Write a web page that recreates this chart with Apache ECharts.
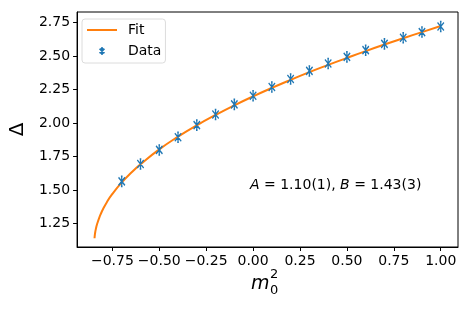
<!DOCTYPE html>
<html>
<head>
<meta charset="utf-8">
<script src="https://cdn.jsdelivr.net/npm/echarts@6/dist/echarts.min.js"></script>
<style>html,body{margin:0;padding:0;background:#fff}#c{width:469px;height:313px}</style>
</head>
<body>
<div id="c"></div>
<script>
// Data points (m0^2, Delta)
const dataX = [-0.7, -0.6, -0.5, -0.4, -0.3, -0.2, -0.1, 0.0, 0.1, 0.2, 0.3, 0.4, 0.5, 0.6, 0.7, 0.8, 0.9, 1.0];
const dataY = [1.565, 1.695, 1.80, 1.895, 1.985, 2.065, 2.14, 2.205, 2.27, 2.33, 2.39, 2.445, 2.495, 2.545, 2.592, 2.638, 2.68, 2.722];
// Fit curve
const fitX = [-0.845, -0.843, -0.84, -0.835, -0.83, -0.82, -0.81, -0.80, -0.78, -0.75, -0.70, -0.65, -0.60, -0.50, -0.40, -0.30, -0.20, -0.10, 0.0, 0.1, 0.2, 0.3, 0.4, 0.5, 0.6, 0.7, 0.8, 0.9, 1.0];
const fitY = [1.14, 1.17, 1.195, 1.228, 1.252, 1.293, 1.327, 1.357, 1.408, 1.471, 1.557, 1.629, 1.693, 1.804, 1.899, 1.984, 2.061, 2.133, 2.20, 2.263, 2.323, 2.381, 2.435, 2.487, 2.538, 2.587, 2.634, 2.680, 2.725];
const xTicks = [-0.75, -0.5, -0.25, 0, 0.25, 0.5, 0.75, 1.0];
const yTicks = [1.25, 1.5, 1.75, 2.0, 2.25, 2.5, 2.75];

const F = 'DejaVu Sans';
const fmt = v => (v < 0 ? '\u2212' : '') + Math.abs(v).toFixed(2);
const markerPath = 'path://M3,0L5,0M4,0L4,10M3,10L5,10M0,1L8,9M8,1L0,9';
const legendMarker = 'path://M-5,-4L-5,-4M13,14L13,14M3,1L5,1M4,1L4,9M3,9L5,9M1,2L7,8M7,2L1,8';
const legendLine = 'path://M0,0L30,0L30,2L0,2Z';

const chart = echarts.init(document.getElementById('c'), null, {renderer: 'canvas'});
chart.setOption({
  animation: false,
  backgroundColor: '#fff',
  grid: {left: 75, right: 11, top: 12, bottom: 66, show: true, borderColor: '#000', borderWidth: 1, backgroundColor: 'transparent'},
  legend: {
    left: 82, top: 19, orient: 'vertical',
    borderColor: '#dcdcdc', borderWidth: 1, borderRadius: 3,
    padding: [4, 4, 4, 5], itemGap: 6, itemWidth: 30, itemHeight: 14,
    textStyle: {fontFamily: F, fontSize: 14, color: '#000', padding: [0, 0, 0, 6]},
    data: [{name: 'Fit', icon: legendLine}, {name: 'Data', icon: legendMarker}]
  },
  xAxis: {
    type: 'value', min: -0.938, max: 1.092,
    axisLine: {show: true, onZero: false, lineStyle: {color: '#000', width: 1}},
    axisTick: {show: true, length: 4, lineStyle: {color: '#000'}, customValues: xTicks},
    axisLabel: {fontFamily: F, fontSize: 14, color: '#000', margin: 7, customValues: xTicks, formatter: fmt},
    splitLine: {show: false}
  },
  yAxis: {
    type: 'value', min: 1.075, max: 2.83,
    name: '\u0394', nameLocation: 'middle', nameRotate: 90, nameGap: 46,
    nameTextStyle: {fontFamily: F, fontSize: 20, color: '#000'},
    axisLine: {show: true, onZero: false, lineStyle: {color: '#000', width: 1}},
    axisTick: {show: true, length: 4, lineStyle: {color: '#000'}, customValues: yTicks},
    axisLabel: {fontFamily: F, fontSize: 14, color: '#000', margin: 7, customValues: yTicks, formatter: fmt},
    splitLine: {show: false}
  },
  series: [
    {
      name: 'Fit', type: 'line', symbol: 'none', smooth: true,
      lineStyle: {color: '#ff7f0e', width: 2}, itemStyle: {color: '#ff7f0e'},
      data: fitX.map((x, i) => [x, fitY[i]]), z: 2
    },
    {
      name: 'Data', type: 'scatter', symbol: markerPath, symbolSize: [8, 10], symbolKeepAspect: true,
      itemStyle: {color: 'rgba(0,0,0,0)', borderColor: '#1f77b4', borderWidth: 1.4, opacity: 1},
      data: dataX.map((x, i) => [x, dataY[i]]), z: 3
    }
  ],
  graphic: [
    {type: 'text', left: 250, top: 178, style: {
      text: '{i|A} = 1.10(1), {i|B} = 1.43(3)', fill: '#000', font: '14px "DejaVu Sans"',
      rich: {i: {fontStyle: 'italic', fontFamily: F, fontSize: 14}}
    }},
    {type: 'text', left: 251, top: 275, style: {text: 'm', fill: '#000', font: 'italic 19px "DejaVu Sans"'}},
    {type: 'text', left: 270, top: 268, style: {text: '2', fill: '#000', font: '13px "DejaVu Sans"'}},
    {type: 'text', left: 270, top: 284, style: {text: '0', fill: '#000', font: '13px "DejaVu Sans"'}}
  ]
});
</script>
</body>
</html>
